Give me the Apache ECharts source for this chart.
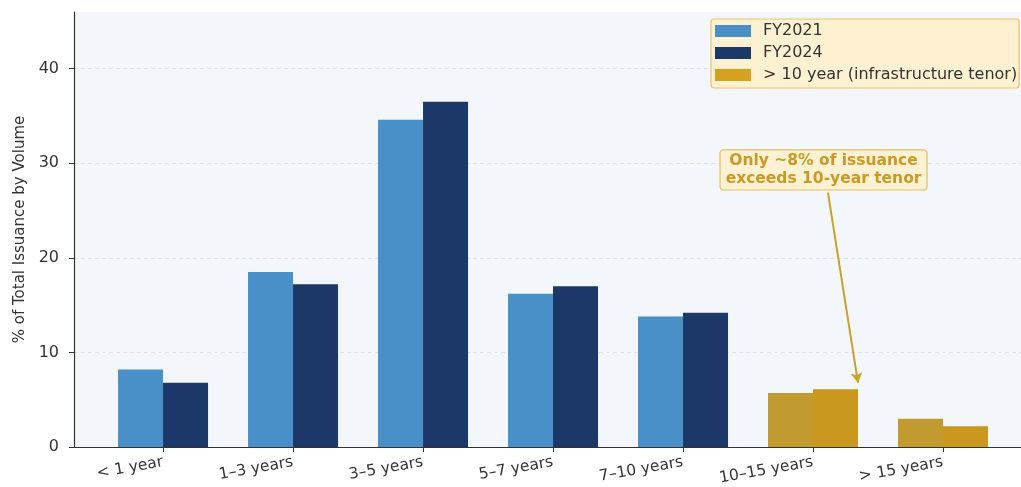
<!DOCTYPE html>
<html>
<head>
<meta charset="utf-8">
<script src="https://cdn.jsdelivr.net/npm/echarts@6/dist/echarts.min.js"></script>
<style>
  html, body { margin: 0; padding: 0; background: #ffffff; }
  #chart { width: 1021px; height: 487px; }
</style>
</head>
<body>
<div id="chart"></div>
<script>
// Tenor buckets and share of total issuance (%)
const categories = ['< 1 year', '1\u20133 years', '3\u20135 years', '5\u20137 years', '7\u201310 years', '10\u201315 years', '> 15 years'];
const fy2021 = [8.2, 18.5, 34.6, 16.2, 13.8, 5.7, 3.0];
const fy2024 = [6.8, 17.2, 36.5, 17.0, 14.2, 6.1, 2.2];
// Buckets beyond 10 years (infrastructure tenor)
const longTenor = [false, false, false, false, false, true, true];
const yTicks = [0, 10, 20, 30, 40];

const BLUE_LIGHT = '#4A90C8';
const BLUE_DARK = '#1C3868';
const GOLD_A = '#C19B30';
const GOLD_B = '#CA981E';
const GOLD_LEGEND = '#D4A21F';
const TEXT = '#333333';
const FONT = 'DejaVu Sans';

function barData(values, goldColor) {
  return values.map((v, i) => ({
    value: [i, v],
    itemStyle: longTenor[i] ? { color: goldColor } : undefined
  }));
}

const idx = categories.map((_, i) => i);

const chart = echarts.init(document.getElementById('chart'), null, { renderer: 'canvas' });
chart.setOption({
  animation: false,
  backgroundColor: '#ffffff',
  textStyle: { fontFamily: FONT },
  grid: {
    left: 74, right: 0, top: 12, bottom: 40,
    show: true, backgroundColor: '#F3F7FB', borderWidth: 0
  },
  legend: {
    orient: 'vertical',
    left: 711, top: 19,
    padding: [4, 2, 5, 4],
    icon: 'rect',
    itemWidth: 36, itemHeight: 12, itemGap: 6,
    backgroundColor: '#FDF1D2',
    borderColor: '#E9C46A', borderWidth: 1.2, borderRadius: 3,
    textStyle: { fontSize: 16, color: TEXT, fontFamily: FONT, padding: [0, 0, 0, 7] },
    data: [
      { name: 'FY2021', itemStyle: { color: BLUE_LIGHT } },
      { name: 'FY2024', itemStyle: { color: BLUE_DARK } },
      { name: '> 10 year (infrastructure tenor)', itemStyle: { color: GOLD_LEGEND } }
    ]
  },
  xAxis: {
    type: 'value',
    min: -0.685, max: 6.6,
    splitLine: { show: false },
    axisLine: { show: true, onZero: false, lineStyle: { color: TEXT, width: 1.2 } },
    axisTick: { show: true, length: 5, lineStyle: { color: TEXT }, customValues: idx },
    axisLabel: {
      customValues: idx,
      rotate: 10,
      margin: 15,
      fontSize: 15.5,
      color: TEXT,
      formatter: v => categories[Math.round(v)]
    }
  },
  yAxis: {
    type: 'value',
    min: 0, max: 46, interval: 10,
    name: '% of Total Issuance by Volume',
    nameLocation: 'middle',
    nameGap: 46,
    nameTextStyle: { fontSize: 15, color: TEXT },
    axisLine: { show: true, onZero: false, lineStyle: { color: TEXT, width: 1.2 } },
    axisTick: { show: true, length: 5, lineStyle: { color: TEXT }, customValues: yTicks },
    axisLabel: { customValues: yTicks, fontSize: 16, color: TEXT, margin: 15 },
    splitLine: { show: true, lineStyle: { color: '#DCE2EA', type: [4, 3], width: 1 } }
  },
  series: [
    {
      name: 'FY2021', type: 'bar',
      barWidth: 45, barGap: '0%',
      itemStyle: { color: BLUE_LIGHT },
      data: barData(fy2021, GOLD_A)
    },
    {
      name: 'FY2024', type: 'bar',
      barWidth: 45, barGap: '0%',
      itemStyle: { color: BLUE_DARK },
      data: barData(fy2024, GOLD_B)
    },
    {
      // legend entry for long tenors, also carries the callout
      name: '> 10 year (infrastructure tenor)', type: 'line',
      itemStyle: { color: GOLD_LEGEND },
      showSymbol: false,
      data: [],
      markLine: {
        silent: true,
        symbol: ['none', 'arrow'],
        symbolSize: [9, 10],
        lineStyle: { color: '#C9A227', width: 2, type: 'solid' },
        label: { show: false },
        data: [[{ coord: [5.115, 26.9] }, { coord: [5.346, 6.8] }]]
      },
      markPoint: {
        silent: true,
        symbol: 'rect', symbolSize: 0,
        label: {
          show: true,
          formatter: 'Only ~8% of issuance\nexceeds 10-year tenor',
          fontSize: 15.5, fontWeight: 'bold',
          color: '#CC9A22',
          lineHeight: 18,
          align: 'center',
          backgroundColor: '#FCF2D3',
          borderColor: '#E2BE5E', borderWidth: 1.2, borderRadius: 3,
          padding: [2, 5, 1, 5]
        },
        data: [{ coord: [5.081, 29.3] }]
      }
    }
  ]
});
</script>
</body>
</html>
